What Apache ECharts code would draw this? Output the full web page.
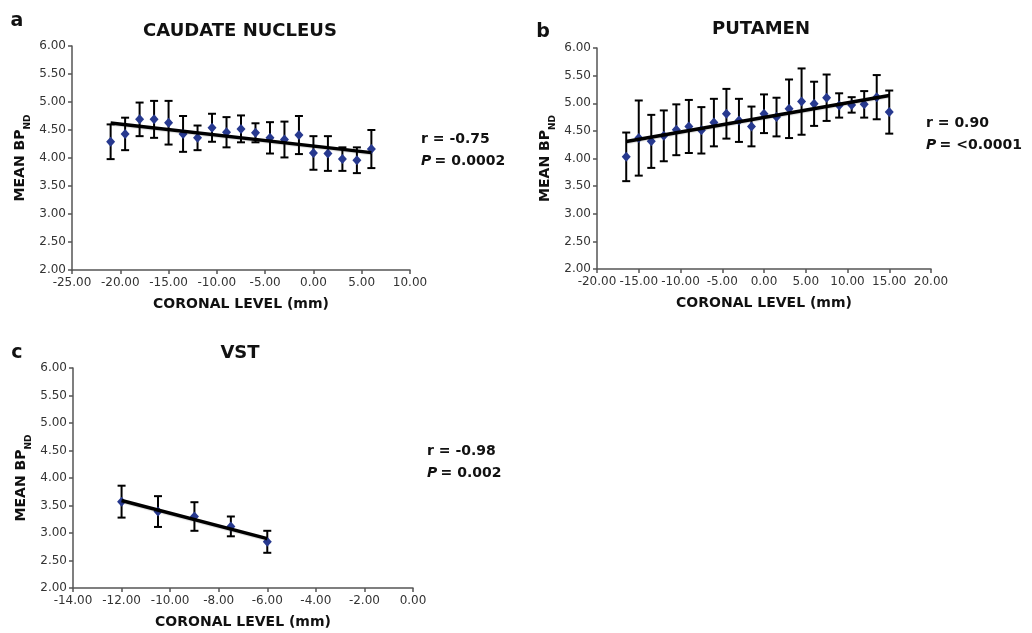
<!DOCTYPE html>
<html>
<head>
<meta charset="utf-8">
<script src="https://cdn.jsdelivr.net/npm/echarts@6/dist/echarts.min.js"></script>
<style>
  html, body { margin: 0; padding: 0; background: #fff; }
  #main { width: 1032px; height: 633px; }
</style>
</head>
<body>
<div id="main"></div>
<script>
// coronal levels (mm), mean BPND and SD per panel
var caudateX = [-21, -19.5, -18, -16.5, -15, -13.5, -12, -10.5, -9, -7.5, -6, -4.5, -3, -1.5, 0, 1.5, 3, 4.5, 6];
var caudateMean = [4.29, 4.43, 4.69, 4.69, 4.63, 4.43, 4.36, 4.54, 4.46, 4.52, 4.45, 4.36, 4.33, 4.41, 4.09, 4.08, 3.98, 3.96, 4.16];
var caudateSD = [0.31, 0.29, 0.30, 0.33, 0.39, 0.32, 0.22, 0.25, 0.27, 0.24, 0.17, 0.28, 0.32, 0.34, 0.30, 0.31, 0.21, 0.23, 0.34];

var putamenX = [-16.5, -15, -13.5, -12, -10.5, -9, -7.5, -6, -4.5, -3, -1.5, 0, 1.5, 3, 4.5, 6, 7.5, 9, 10.5, 12, 13.5, 15];
var putamenMean = [4.03, 4.37, 4.31, 4.41, 4.52, 4.58, 4.51, 4.65, 4.81, 4.69, 4.58, 4.81, 4.75, 4.90, 5.03, 4.99, 5.10, 4.96, 4.97, 4.98, 5.11, 4.84];
var putamenSD = [0.44, 0.68, 0.48, 0.46, 0.46, 0.48, 0.42, 0.43, 0.45, 0.39, 0.36, 0.35, 0.35, 0.53, 0.60, 0.40, 0.42, 0.22, 0.14, 0.24, 0.40, 0.39];

var vstX = [-12, -10.5, -9, -7.5, -6];
var vstMean = [3.57, 3.39, 3.30, 3.12, 2.84];
var vstSD = [0.29, 0.28, 0.26, 0.18, 0.20];

var panelTitles = ['CAUDATE NUCLEUS', 'PUTAMEN', 'VST'];
var panelLetters = ['a', 'b', 'c'];
var rTexts = ['r = -0.75', 'r = 0.90', 'r = -0.98'];
var pTexts = ['= 0.0002', '= <0.0001', '= 0.002'];

var FONT = '"DejaVu Sans", sans-serif';
var MARK = '#27398f';

var myChart = echarts.init(document.getElementById('main'));

// least squares line, ends at first and last x
function trend(xs, ys) {
  var n = xs.length, mx = 0, my = 0, sxy = 0, sxx = 0;
  for (var i = 0; i < n; i++) { mx += xs[i]; my += ys[i]; }
  mx /= n; my /= n;
  for (var j = 0; j < n; j++) {
    sxy += (xs[j] - mx) * (ys[j] - my);
    sxx += (xs[j] - mx) * (xs[j] - mx);
  }
  var b = sxy / sxx, a = my - b * mx;
  var x0 = xs[0], x1 = xs[n - 1];
  return [[x0, a + b * x0], [x1, a + b * x1]];
}

function zip3(xs, ys, es) {
  return xs.map(function (x, i) { return [x, ys[i], es[i]]; });
}

function errorBars(params, api) {
  var x = api.value(0), m = api.value(1), e = api.value(2);
  var top = api.coord([x, m + e]);
  var bot = api.coord([x, m - e]);
  var w = 4;
  var st = { stroke: '#000', lineWidth: 2 };
  return {
    type: 'group',
    children: [
      { type: 'line', shape: { x1: top[0], y1: top[1], x2: bot[0], y2: bot[1] }, style: st },
      { type: 'line', shape: { x1: top[0] - w, y1: top[1], x2: top[0] + w, y2: top[1] }, style: st },
      { type: 'line', shape: { x1: bot[0] - w, y1: bot[1], x2: bot[0] + w, y2: bot[1] }, style: st }
    ]
  };
}

function xAxisOf(idx, min, max, interval) {
  return {
    gridIndex: idx,
    type: 'value',
    min: min, max: max, interval: interval,
    name: 'CORONAL LEVEL (mm)',
    nameLocation: 'middle',
    nameGap: 27,
    nameTextStyle: { fontFamily: FONT, fontWeight: 'bold', fontSize: 14, color: '#111' },
    axisLine: { onZero: false, lineStyle: { color: '#555', width: 1.5 } },
    axisTick: { show: true, length: 4, lineStyle: { color: '#555', width: 1.5 } },
    axisLabel: {
      fontFamily: FONT, fontSize: 12, color: '#333', margin: 7,
      formatter: function (v) { return v.toFixed(2); }
    },
    splitLine: { show: false }
  };
}

function yAxisOf(idx) {
  return {
    gridIndex: idx,
    type: 'value',
    min: 2, max: 6, interval: 0.5,
    name: '{m|MEAN BP}{s|ND}',
    nameLocation: 'middle',
    nameRotate: 90,
    nameGap: 40,
    nameTextStyle: {
      rich: {
        m: { fontFamily: FONT, fontWeight: 'bold', fontSize: 14, color: '#111', lineHeight: 24, verticalAlign: 'middle' },
        s: { fontFamily: FONT, fontWeight: 'bold', fontSize: 9, color: '#111', lineHeight: 24, verticalAlign: 'bottom' }
      }
    },
    axisLine: { show: true, onZero: false, lineStyle: { color: '#555', width: 1.5 } },
    axisTick: { show: true, length: 4, lineStyle: { color: '#555', width: 1.5 } },
    axisLabel: {
      fontFamily: FONT, fontSize: 12, color: '#333', margin: 6,
      formatter: function (v) { return v.toFixed(2); }
    },
    splitLine: { show: false }
  };
}

function panelSeries(idx, xs, ys, es) {
  return [
    {
      type: 'custom',
      xAxisIndex: idx, yAxisIndex: idx,
      renderItem: errorBars,
      encode: { x: 0, y: 1 },
      data: zip3(xs, ys, es),
      z: 2
    },
    {
      type: 'scatter',
      xAxisIndex: idx, yAxisIndex: idx,
      symbol: 'diamond',
      symbolSize: [9, 10],
      itemStyle: { color: MARK, opacity: 1 },
      data: xs.map(function (x, i) { return [x, ys[i]]; }),
      z: 3
    },
    {
      type: 'line',
      xAxisIndex: idx, yAxisIndex: idx,
      symbol: 'none',
      lineStyle: { color: '#000', width: 3.5, shadowColor: 'rgba(0,0,0,0.15)', shadowBlur: 1, shadowOffsetY: 1 },
      data: trend(xs, ys),
      z: 4
    }
  ];
}

// free text: letters, titles, r and P
var titlePos = [[240, 31], [761, 29], [240, 353]];
var letterPos = [[17, 21], [543, 32], [17, 353]];
var statPos = [[421, 139], [926, 123], [427, 451]];
var graphics = [];
for (var k = 0; k < 3; k++) {
  graphics.push({
    type: 'text', x: letterPos[k][0], y: letterPos[k][1],
    style: { text: panelLetters[k], font: 'bold 19px ' + FONT, fill: '#111', textAlign: 'center', textVerticalAlign: 'middle' }
  });
  graphics.push({
    type: 'text', x: titlePos[k][0], y: titlePos[k][1],
    style: { text: panelTitles[k], font: 'bold 18px ' + FONT, fill: '#111', textAlign: 'center', textVerticalAlign: 'middle' }
  });
  graphics.push({
    type: 'text', x: statPos[k][0], y: statPos[k][1],
    style: { text: rTexts[k], font: 'bold 14px ' + FONT, fill: '#111', textAlign: 'left', textVerticalAlign: 'middle' }
  });
  graphics.push({
    type: 'text', x: statPos[k][0], y: statPos[k][1] + 22,
    style: {
      text: '{i|P} {n|' + pTexts[k] + '}',
      textAlign: 'left', textVerticalAlign: 'middle',
      rich: {
        i: { font: 'italic bold 14px ' + FONT, fill: '#111' },
        n: { font: 'bold 14px ' + FONT, fill: '#111' }
      }
    }
  });
}

myChart.setOption({
  animation: false,
  backgroundColor: '#fff',
  grid: [
    { left: 72, top: 46, width: 338, height: 224 },
    { left: 597, top: 48, width: 334, height: 221 },
    { left: 73, top: 368, width: 340, height: 220 }
  ],
  xAxis: [
    xAxisOf(0, -25, 10, 5),
    xAxisOf(1, -20, 20, 5),
    xAxisOf(2, -14, 0, 2)
  ],
  yAxis: [yAxisOf(0), yAxisOf(1), yAxisOf(2)],
  graphic: graphics,
  series: []
    .concat(panelSeries(0, caudateX, caudateMean, caudateSD))
    .concat(panelSeries(1, putamenX, putamenMean, putamenSD))
    .concat(panelSeries(2, vstX, vstMean, vstSD))
});
</script>
</body>
</html>
